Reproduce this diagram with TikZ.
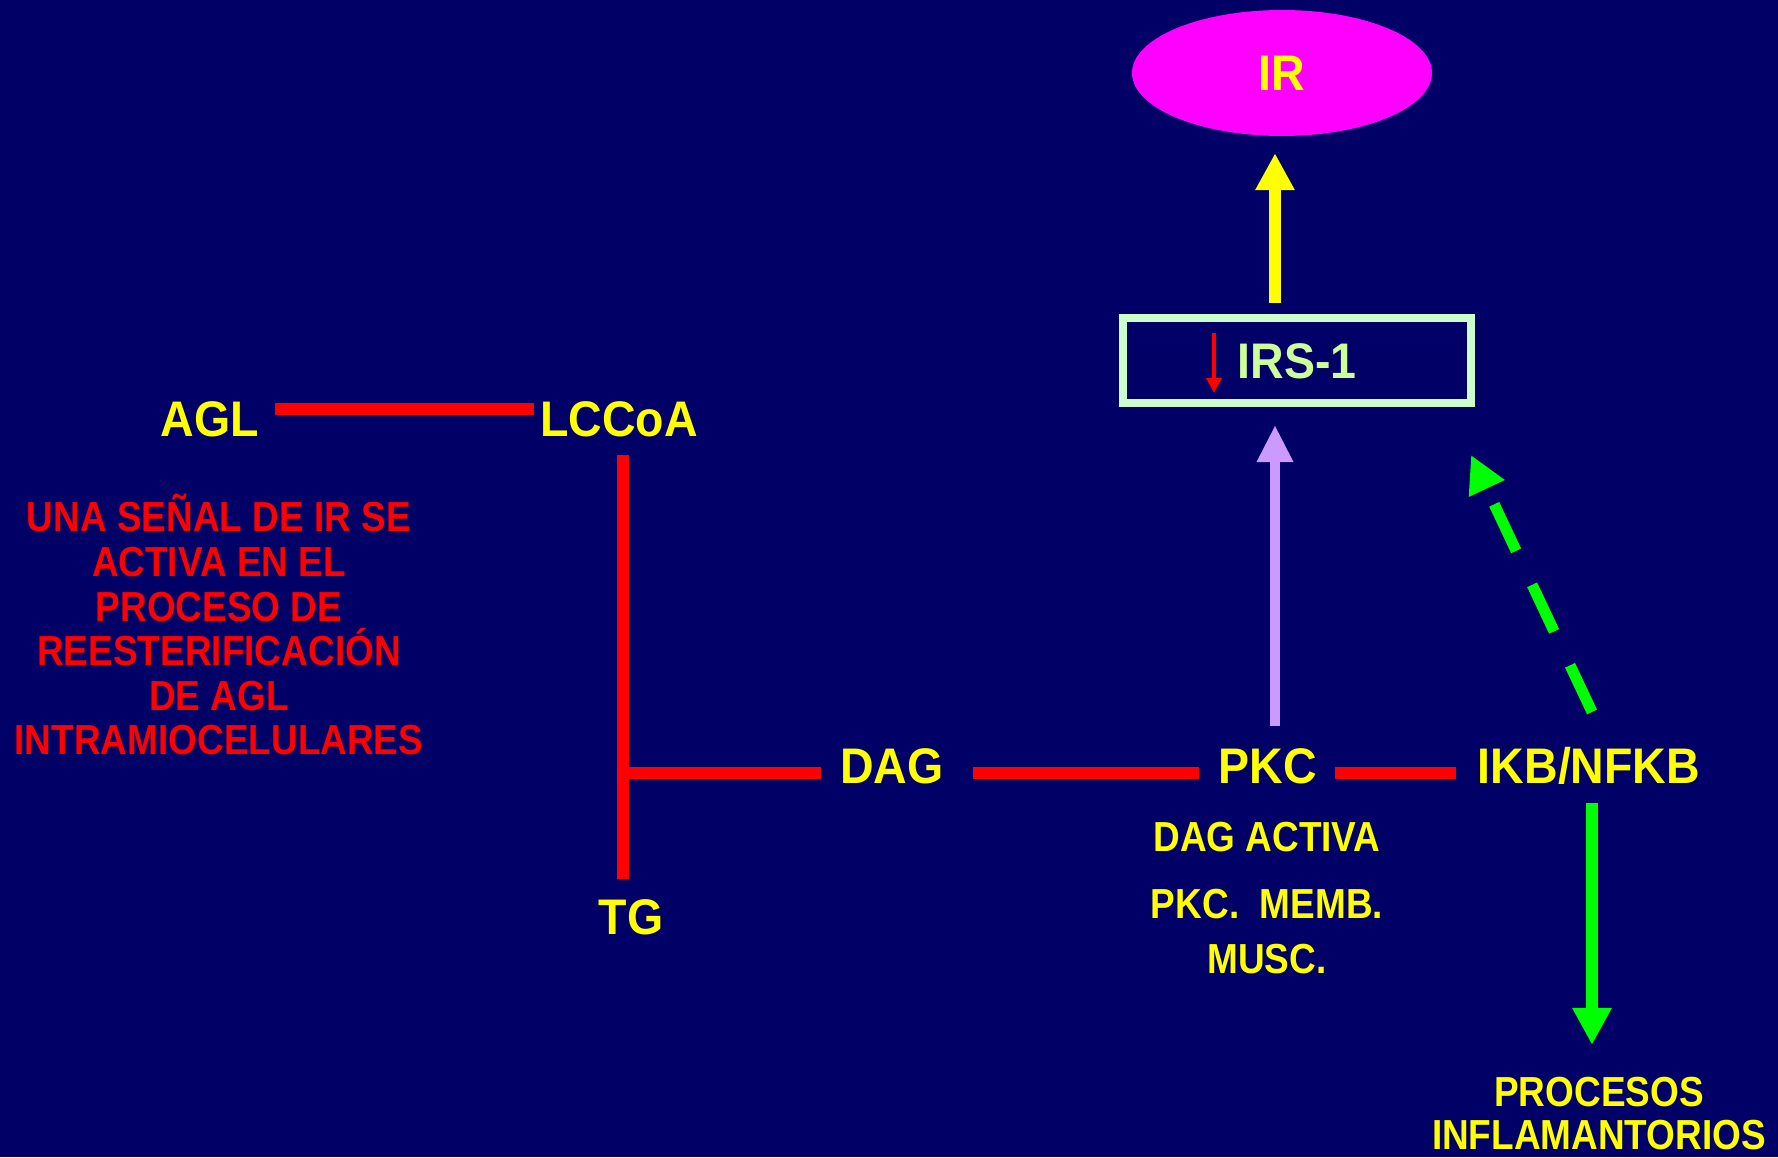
\documentclass[tikz,border=0pt]{standalone}
\usepackage{fontspec}
\usetikzlibrary{arrows.meta,calc,shapes.geometric}
\newfontfamily\labfont[FakeStretch=0.93]{Liberation Sans Bold}
\newfontfamily\narfont[FakeStretch=0.88]{Liberation Sans Bold}
\definecolor{bgnavy}{RGB}{0,0,102}
\definecolor{yel}{RGB}{255,255,0}
\definecolor{rd}{RGB}{255,0,0}
\definecolor{grn}{RGB}{0,255,0}
\definecolor{mag}{RGB}{255,0,255}
\definecolor{lav}{RGB}{204,153,255}
\definecolor{mint}{RGB}{204,255,204}
\definecolor{lime}{RGB}{204,255,153}
\begin{document}
\begin{tikzpicture}[x=1pt,y=-1pt,
  big/.style={font=\labfont\fontsize{50}{50}\selectfont, text=yel, inner sep=0pt, text height=35.8pt, text depth=0pt},
  small/.style={font=\narfont\fontsize{42}{44.6}\selectfont, text=yel, inner sep=0pt, text height=30pt, text depth=0pt},
  redline/.style={draw=rd, line width=12pt},
  fatarrow/.style={line width=12pt, -{Triangle[length=37pt,width=37pt]}},
]
\useasboundingbox (0,0) rectangle (1778,1157);
\fill[bgnavy] (0,0) rectangle (1778,1157);

% nodes
\node[big, ellipse, fill=mag, minimum width=300pt, minimum height=126pt] (ir) at (1282,73) {IR};
\node[big, draw=mint, line width=8pt, rectangle, minimum width=348pt, minimum height=85pt, text=lime] (irs) at (1297,360.5) {IRS-1};
\node[big] (agl) at (210,419) {AGL};
\node[big] (lccoa) at (619,419) {LCCoA};
\node[big] (dag) at (892,766) {DAG};
\node[big] (pkc) at (1268,766) {PKC};
\node[big] (ikb) at (1589,766) {IKB/NFKB};
\node[big] (tg) at (631,917) {TG};

\node[small, text=rd, align=center, anchor=south, text height=, text depth=] (note) at (219,755.5)
  {UNA SEÑAL DE IR SE\\ACTIVA EN EL\\PROCESO DE\\REESTERIFICACIÓN\\DE AGL\\INTRAMIOCELULARES};
\node[small] (dagact) at (1267,836) {DAG ACTIVA};
\node[small] (pkcm) at (1267,903) {PKC.~~MEMB.};
\node[small] (musc) at (1267,958) {MUSC.};
\node[small, align=center, anchor=south, text height=, text depth=, font=\narfont\fontsize{42}{43}\selectfont] (proc) at (1599,1150)
  {PROCESOS\\INFLAMANTORIOS};

% red connectors
\coordinate (tj) at (622.5,772.5);
\draw[redline] ($(agl.east)+(16,-10.5)$) -- ($(lccoa.west)+(-6,-10.5)$);
\draw[redline] ($(lccoa.south)+(3.5,18)$) -- ($(tg.north)+(-8.5,-20)$);
\draw[redline] (tj) -- ($(dag.west)+(-19,6.5)$);
\draw[redline] ($(dag.east)+(29,6.5)$) -- ($(pkc.west)+(-20,6.5)$);
\draw[redline] ($(pkc.east)+(18,6.5)$) -- ($(ikb.west)+(-22,6.5)$);

% arrows
\draw[fatarrow, draw=yel] ($(irs.north)+(-22,-11)$) -- ($(ir.south)+(-7,17)$);
\draw[line width=10pt, draw=lav, -{Triangle[length=37pt,width=34pt]}] ($(pkc.north)+(7,-22)$) -- ($(irs.south)+(-22,18)$);
\draw[line width=11pt, draw=grn, dash pattern=on 51.5pt off 37.5pt, -{Triangle[length=37pt,width=37pt]}] ($(ikb.north)+(3,-36)$) -- ($(irs.south east)+(-4,48)$);
\draw[fatarrow, draw=grn] ($(ikb.south)+(3,19)$) -- ($(proc.north)+(-7,-32)$);
\draw[line width=4pt, draw=rd, -{Triangle[length=15pt,width=15pt]}] ($(irs.center)+(-83,-27.5)$) -- ($(irs.center)+(-83,32.5)$);
\end{tikzpicture}
\end{document}
